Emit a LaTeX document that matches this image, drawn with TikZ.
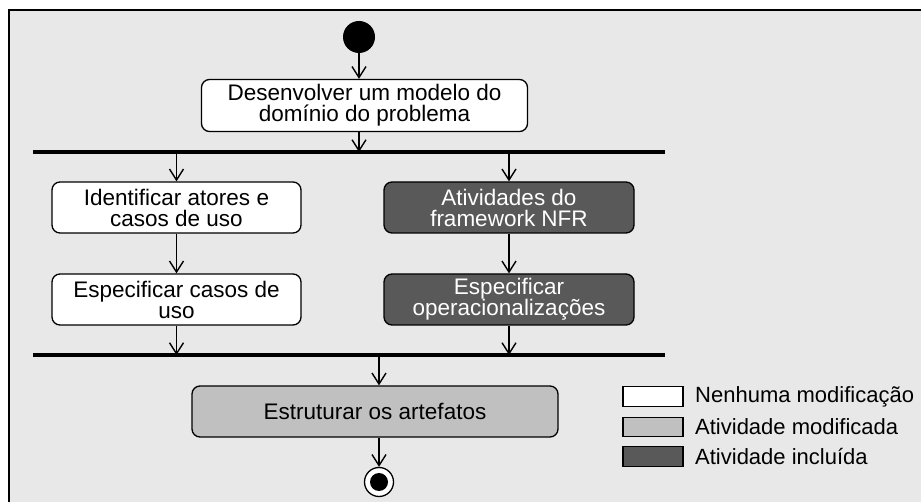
\documentclass[tikz,border=0pt]{standalone}
\usepackage{fontspec}
\setmainfont{Liberation Sans}
\usetikzlibrary{arrows.meta}
\definecolor{bgc}{HTML}{E8E8E8}
\definecolor{modc}{HTML}{C0C0C0}
\definecolor{incc}{HTML}{595959}
\begin{document}
\begin{tikzpicture}[x=1pt,y=-1pt,
  act/.style={draw=black,line width=1.3pt,rounded corners=8pt,align=center,inner sep=0pt,
     font=\fontsize{22.5}{21}\selectfont,text=black},
  nomod/.style={act,fill=white},
  modif/.style={act,fill=modc},
  incl/.style={act,fill=incc,text=white},
  flow/.style={line width=1.3pt,-{Straight Barb[length=11pt,width=14pt,line width=1.4pt]}},
  bar/.style={line width=4.5pt},
  legbox/.style={draw=black,line width=1.2pt,minimum width=60pt,minimum height=19.5pt,inner sep=0pt},
  legtxt/.style={anchor=west,inner sep=0pt,font=\fontsize{22}{22}\selectfont}]
\useasboundingbox (0,0) rectangle (921,502);
\fill[bgc] (9,10) rectangle (935,515);
\draw[line width=1.5pt] (9,515) -- (9,10) -- (935,10);

% initial
\node[circle,fill=black,minimum size=32pt,inner sep=0pt] (init) at (359,37) {};
\node[nomod,minimum width=326pt,minimum height=52pt] (dev) at (364.5,105.5) {Desenvolver um modelo do\\dom\'inio do problema};
\draw[flow] (init) -- (init |- dev.north);

% fork bar
\coordinate (f1l) at (33,152);
\coordinate (f1r) at (665,152);
\draw[bar] (f1l) -- (f1r);
\coordinate (f1dev) at (359,152);
\draw[flow] (dev.south -| f1dev) -- (f1dev);

\node[nomod,minimum width=249pt,minimum height=51pt] (ident) at (176.5,207.5) {Identificar atores e\\casos de uso};
\node[nomod,minimum width=249pt,minimum height=51pt] (espuso) at (176.5,299.5) {Especificar casos de\\uso};
\node[incl,minimum width=250pt,minimum height=51pt] (nfr) at (509,207.5) {Atividades do\\framework NFR};
\node[incl,minimum width=250pt,minimum height=51pt] (espop) at (509,299.5) {Especificar\\operacionaliza\c{c}\~oes};

\coordinate (f1a) at (176.5,152);
\coordinate (f1b) at (509,152);
\draw[flow] (f1a) -- (ident.north);
\draw[flow] (f1b) -- (nfr.north);
\draw[flow] (ident) -- (espuso);
\draw[flow] (nfr) -- (espop);

% join bar
\coordinate (j1l) at (33,355);
\coordinate (j1r) at (665,355);
\draw[bar] (j1l) -- (j1r);
\coordinate (j1a) at (176.5,355);
\coordinate (j1b) at (509,355);
\draw[flow] (espuso.south) -- (j1a);
\draw[flow] (espop.south) -- (j1b);

\node[modif,minimum width=366pt,minimum height=51pt] (estr) at (375,411.5) {Estruturar os artefatos};
\coordinate (j1c) at (379,355);
\draw[flow] (j1c) -- (j1c |- estr.north);

% final
\node[circle,draw=black,fill=white,line width=1.3pt,minimum size=29pt,inner sep=0pt] (fin) at (379,482) {};
\node[circle,fill=black,minimum size=18pt,inner sep=0pt] (finin) at (fin) {};
\draw[flow] (estr.south -| fin) -- (fin.north);

% legend
\node[legbox,fill=white] (lg1) at (653,396.5) {};
\node[legbox,fill=modc] (lg2) at (653,427) {};
\node[legbox,fill=incc] (lg3) at (653,456.5) {};
\node[legtxt] (lt1) at (695,396.5) {Nenhuma modifica\c{c}\~ao};
\node[legtxt] (lt2) at (695,427) {Atividade modificada};
\node[legtxt] (lt3) at (695,456.5) {Atividade inclu\'ida};
\end{tikzpicture}
\end{document}
